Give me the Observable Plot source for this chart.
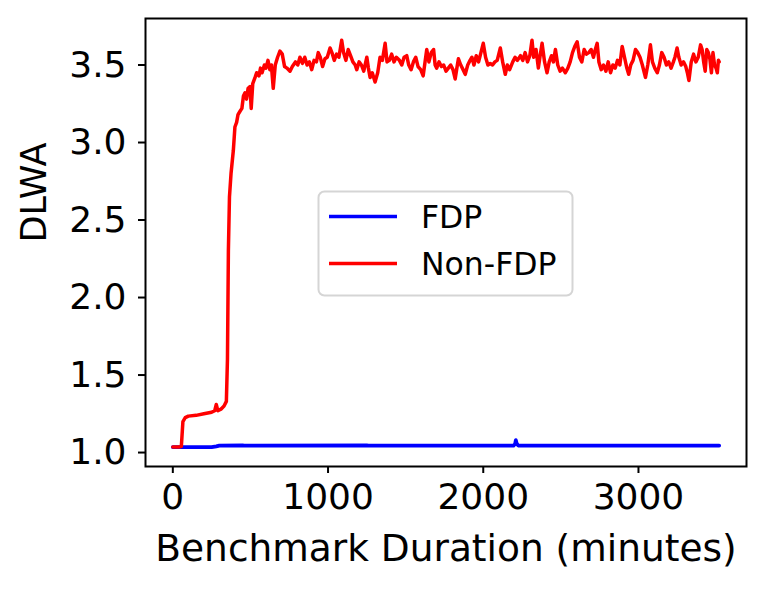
<!DOCTYPE html>
<html><head><meta charset="utf-8">
<script src="https://cdn.jsdelivr.net/npm/d3@7"></script>
<script src="https://cdn.jsdelivr.net/npm/@observablehq/plot@0.6"></script>
<style>body{margin:0;background:#fff} #chart{width:765px;height:589px}</style>
</head><body><div id="chart"></div>
<script>
const xTicks = [0, 1000, 2000, 3000];
const yTicks = [1.0, 1.5, 2.0, 2.5, 3.0, 3.5];
const seriesNames = ["FDP", "Non-FDP"];
const seriesColors = ["#0000ff", "#ff0000"];
const xLabel = "Benchmark Duration (minutes)";
const yLabel = "DLWA";

const blueX = [0, 250, 280, 300, 450, 460, 1250, 1260, 2195, 2205, 2210, 2215, 2225, 3520];
const blueY = [1.035, 1.035, 1.04, 1.045, 1.046, 1.045, 1.046, 1.045, 1.045, 1.055, 1.08, 1.06, 1.045, 1.045];

const redX = [0,40,55,65,80,100,150,200,250,270,280,290,310,330,345,352,358,365,375,390,400,411,420,432,445,455,465,475,485,497,505,515,530,540,555,565,575,590,600,613,625,635,647,660,675,690,705,720,735,755,770,790,805,819,835,850,865,880,895,910,925,937,950,965,980,995,1013,1025,1040,1055,1070,1088,1100,1115,1130,1145,1160,1175,1185,1200,1215,1230,1250,1260,1271,1285,1303,1320,1335,1350,1368,1380,1395,1410,1425,1440,1460,1475,1490,1507,1520,1535,1550,1565,1580,1597,1613,1625,1636,1650,1665,1680,1690,1700,1715,1730,1745,1760,1775,1790,1805,1819,1830,1840,1855,1870,1884,1900,1915,1927,1940,1955,1970,1985,2000,2015,2030,2045,2060,2075,2090,2110,2125,2142,2155,2170,2190,2205,2220,2240,2255,2270,2285,2300,2314,2325,2340,2355,2365,2379,2395,2411,2425,2440,2452,2465,2480,2495,2510,2529,2545,2560,2575,2590,2605,2620,2635,2650,2665,2680,2695,2710,2722,2734,2745,2760,2775,2790,2805,2820,2835,2850,2865,2880,2895,2910,2925,2937,2950,2965,2981,2995,3010,3025,3045,3060,3077,3090,3105,3121,3135,3150,3165,3180,3195,3210,3225,3235,3249,3260,3275,3290,3305,3315,3325,3340,3355,3370,3385,3400,3410,3420,3430,3440,3450,3460,3470,3480,3490,3500,3508,3515,3520];
const redY = [1.035,1.035,1.04,1.20,1.225,1.235,1.24,1.25,1.26,1.27,1.31,1.27,1.28,1.30,1.33,1.6,2.3,2.65,2.8,2.95,3.1,3.13,3.18,3.2,3.22,3.30,3.32,3.28,3.35,3.36,3.22,3.38,3.42,3.45,3.43,3.48,3.45,3.50,3.48,3.53,3.47,3.50,3.35,3.50,3.55,3.59,3.57,3.49,3.48,3.46,3.49,3.52,3.50,3.55,3.51,3.55,3.50,3.52,3.47,3.53,3.52,3.58,3.55,3.49,3.54,3.55,3.61,3.58,3.53,3.57,3.55,3.66,3.58,3.53,3.60,3.56,3.52,3.50,3.47,3.52,3.50,3.46,3.55,3.48,3.42,3.45,3.39,3.45,3.55,3.53,3.64,3.52,3.53,3.57,3.52,3.55,3.53,3.50,3.55,3.56,3.50,3.47,3.52,3.55,3.49,3.47,3.43,3.52,3.60,3.52,3.58,3.60,3.50,3.48,3.52,3.49,3.50,3.46,3.48,3.50,3.47,3.41,3.48,3.54,3.50,3.47,3.44,3.50,3.53,3.55,3.50,3.56,3.52,3.58,3.64,3.55,3.50,3.51,3.50,3.52,3.53,3.61,3.52,3.44,3.50,3.47,3.52,3.55,3.53,3.56,3.53,3.58,3.52,3.56,3.66,3.55,3.60,3.48,3.55,3.64,3.52,3.45,3.52,3.56,3.52,3.60,3.50,3.46,3.48,3.45,3.48,3.52,3.58,3.62,3.65,3.55,3.52,3.60,3.57,3.58,3.60,3.55,3.60,3.64,3.52,3.47,3.50,3.46,3.52,3.45,3.50,3.48,3.53,3.50,3.62,3.55,3.48,3.44,3.50,3.53,3.60,3.58,3.55,3.50,3.42,3.50,3.63,3.52,3.48,3.45,3.50,3.58,3.55,3.50,3.52,3.48,3.52,3.55,3.61,3.55,3.50,3.52,3.49,3.45,3.40,3.52,3.57,3.52,3.55,3.63,3.60,3.52,3.46,3.60,3.58,3.54,3.45,3.58,3.50,3.48,3.45,3.53,3.52];

const blue = blueX.map((x, i) => ({x, y: blueY[i]}));
const red = redX.map((x, i) => ({x, y: redY[i]}));

const plot = Plot.plot({
  width: 765, height: 589,
  marginLeft: 145, marginRight: 19, marginTop: 18, marginBottom: 123,
  style: {fontFamily: "DejaVu Sans", background: "#fff", color: "#000"},
  x: {domain: [-176, 3696]},
  y: {domain: [0.91, 3.80]},
  marks: [
    Plot.line(blue, {x: "x", y: "y", stroke: seriesColors[0], strokeWidth: 3.75}),
    Plot.line(red, {x: "x", y: "y", stroke: seriesColors[1], strokeWidth: 3.5}),
    Plot.frame({stroke: "#000", strokeWidth: 2}),
    Plot.axisX({ticks: xTicks, tickSize: 7, tickPadding: 10, fontSize: 36, label: null, tickFormat: d => String(d), strokeWidth: 2}),
    Plot.axisY({ticks: yTicks, tickSize: 7, tickPadding: 12, fontSize: 36, label: null, tickFormat: d3.format(".1f"), strokeWidth: 2}),
    Plot.text([xLabel], {text: d => d, frameAnchor: "bottom", lineAnchor: "middle", dy: 82, fontSize: 37.5}),
    Plot.text([yLabel], {text: d => d, frameAnchor: "left", lineAnchor: "middle", rotate: -90, dx: -111, fontSize: 35})
  ]
});

// legend drawn inside the plot area
const svg = d3.select(plot);
const lg = svg.append("g");
lg.append("rect").attr("x", 318.5).attr("y", 191.5).attr("width", 254).attr("height", 104)
  .attr("rx", 6).attr("fill", "#fff").attr("fill-opacity", 0.8).attr("stroke", "#d5d5d5").attr("stroke-width", 2);
const rows = [216.5, 263.5];
seriesNames.forEach((name, i) => {
  lg.append("line").attr("x1", 329).attr("x2", 397).attr("y1", rows[i]).attr("y2", rows[i])
    .attr("stroke", seriesColors[i]).attr("stroke-width", 3.5);
  lg.append("text").attr("x", 421).attr("y", rows[i]).attr("dy", "0.36em")
    .style("font-family", "DejaVu Sans").style("font-size", "31.5px").style("text-anchor", "start")
    .attr("fill", "#000").text(name);
});

document.getElementById("chart").appendChild(plot);
</script>
</body></html>
